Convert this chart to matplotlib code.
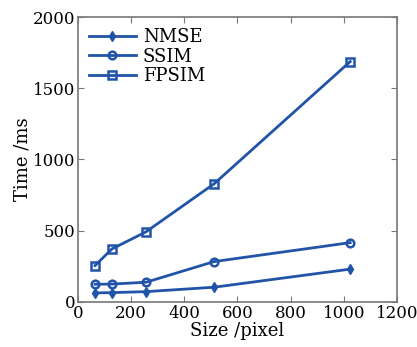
import matplotlib
matplotlib.use("Agg")
import matplotlib.pyplot as plt

# -----------------------------
# Data
# -----------------------------
sizes = [64, 128, 256, 512, 1024]
nmse = [63, 65, 72, 103, 230]
ssim = [124, 125, 138, 283, 416]
fpsim = [255, 372, 492, 829, 1687]

blue = "#2154a8"

plt.rcParams["font.family"] = ["DejaVu Serif"]
plt.rcParams["font.size"] = 13

fig = plt.figure(figsize=(4.17, 3.47), dpi=100)
ax = fig.add_axes([0.187, 0.130, 0.765, 0.821])

ax.plot(sizes, nmse, color=blue, lw=2, marker="d", ms=5, label="NMSE")
ax.plot(sizes, ssim, color=blue, lw=2, marker="o", ms=5.5, mfc="none", mew=1.8, label="SSIM")
ax.plot(sizes, fpsim, color=blue, lw=2, marker="s", ms=5.5, mfc="none", mew=1.8, label="FPSIM")

ax.set_xlim(0, 1200)
ax.set_ylim(0, 2000)
ax.set_xticks([0, 200, 400, 600, 800, 1000, 1200])
ax.set_yticks([0, 500, 1000, 1500, 2000])
ax.tick_params(direction="in", top=True, right=True, length=4, color="#777777",
               pad=2, labelsize=12)
for s in ax.spines.values():
    s.set_color("#777777")
    s.set_linewidth(1.2)

ax.set_xlabel("Size /pixel", labelpad=0)
ax.set_ylabel("Time /ms", labelpad=1)
ax.legend(loc="upper left", frameon=False, handlelength=2.6, borderaxespad=0.2,
          labelspacing=0.1, handletextpad=0.4)

fig.savefig("out.png", dpi=100)
